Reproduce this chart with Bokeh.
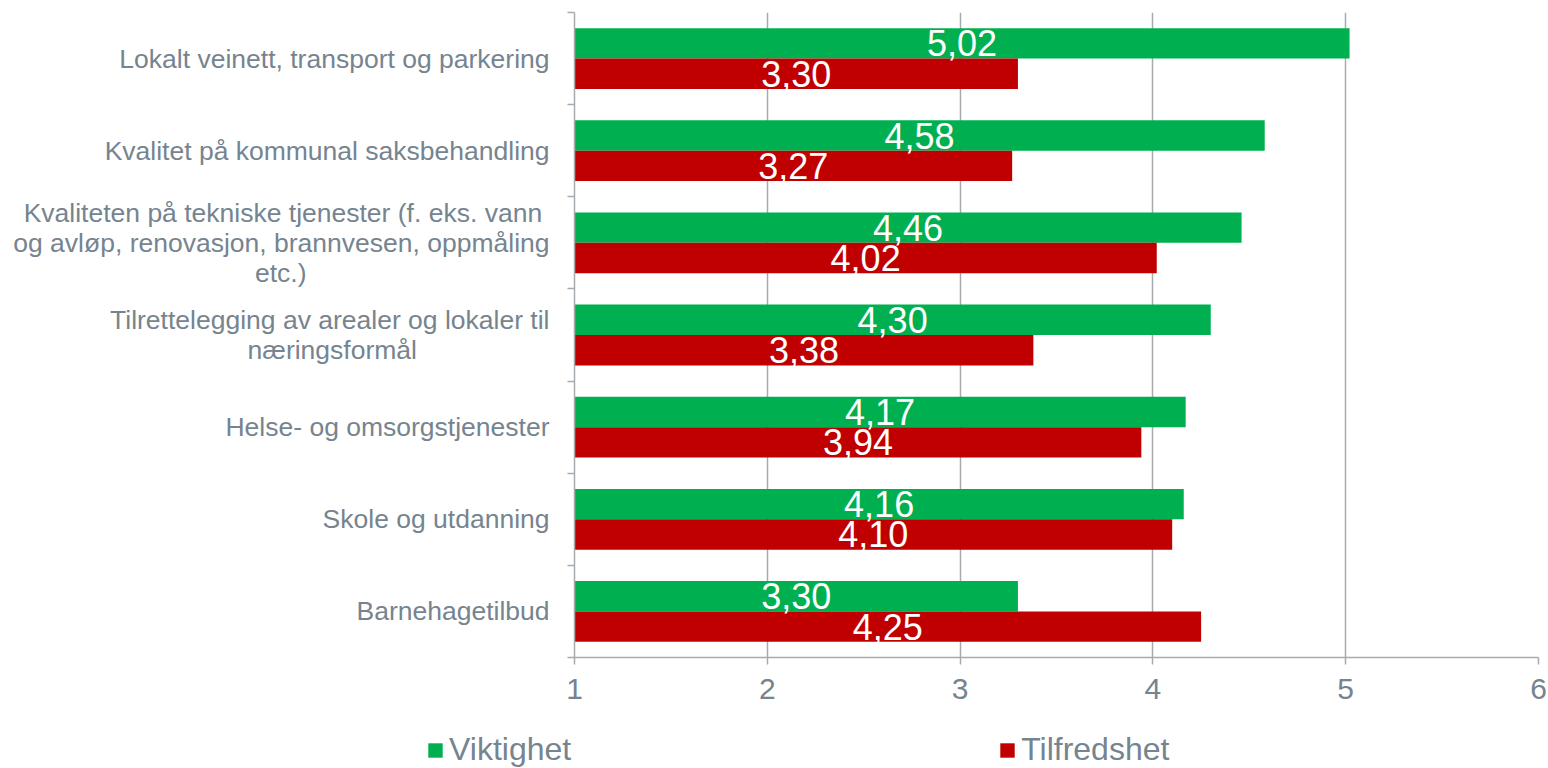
from bokeh.plotting import figure
from bokeh.layouts import column, row
from bokeh.models import Range1d, FixedTicker, Legend, LegendItem, ColumnDataSource
from bokeh.embed import file_html
from bokeh.resources import INLINE
from bokeh.core.properties import value

categories = [
    "Lokalt veinett, transport og parkering",
    "Kvalitet på kommunal saksbehandling",
    "Kvaliteten på tekniske tjenester (f. eks. vann\nog avløp, renovasjon, brannvesen, oppmåling\netc.)",
    "Tilrettelegging av arealer og lokaler til\nnæringsformål",
    "Helse- og omsorgstjenester",
    "Skole og utdanning",
    "Barnehagetilbud",
]
viktighet = [5.02, 4.58, 4.46, 4.30, 4.17, 4.16, 3.30]
tilfredshet = [3.30, 3.27, 4.02, 3.38, 3.94, 4.10, 4.25]
series_names = ["Viktighet", "Tilfredshet"]
x_ticks = [1, 2, 3, 4, 5, 6]

GREEN = "#00b050"
RED = "#c00000"
GRAY = "#a6abaf"
TEXT = "#76848f"
FONT = "Liberation Sans"
BAR_H = 0.33
X0 = 1
NBSP = "\u00a0"
# trailing non-breaking spaces per wrapped line, so that right-aligned lines look centred
LINE_PAD = {"vann": 1, "etc.)": 33, "næringsformål": 18}

n = len(categories)
centers = [n - i - 0.5 for i in range(n)]

def fmt(v):
    return f"{v:.2f}".replace(".", ",")

def pad_label(lab):
    if "\n" not in lab:
        return lab
    out = []
    for line in lab.split("\n"):
        k = next((v for key, v in LINE_PAD.items() if line.endswith(key)), 0)
        out.append(line + NBSP * k)
    return "\n".join(out)

src_g = ColumnDataSource(dict(
    y=[c + BAR_H / 2 for c in centers], right=viktighet, left=[X0] * n,
    tx=[(X0 + v) / 2 for v in viktighet],
    label=[fmt(v) for v in viktighet]))
src_r = ColumnDataSource(dict(
    y=[c - BAR_H / 2 for c in centers], right=tilfredshet, left=[X0] * n,
    tx=[(X0 + v) / 2 for v in tilfredshet],
    label=[fmt(v) for v in tilfredshet]))

p = figure(width=1548, height=718, output_backend="svg", toolbar_location=None,
           x_range=Range1d(1, 6), y_range=Range1d(0, n),
           min_border_left=574, min_border_right=10, min_border_top=12, min_border_bottom=61)
p.outline_line_color = None
p.background_fill_color = "white"

g = p.hbar(y="y", left="left", right="right", height=BAR_H, source=src_g,
           fill_color=GREEN, line_color=None)
r = p.hbar(y="y", left="left", right="right", height=BAR_H, source=src_r,
           fill_color=RED, line_color=None)

for src in (src_g, src_r):
    p.text(x="tx", y="y", text="label", source=src, text_color="white",
           text_font=value(FONT), text_font_size="36px", text_align="center",
           text_baseline="middle")

# x axis
xa = p.xaxis[0]
xa.ticker = FixedTicker(ticks=x_ticks, minor_ticks=[])
xa.axis_line_color = GRAY
xa.axis_line_width = 1.5
xa.major_tick_line_color = GRAY
xa.major_tick_line_width = 1.5
xa.major_tick_out = 7
xa.major_tick_in = 0
xa.minor_tick_line_color = None
xa.major_label_text_font = FONT
xa.major_label_text_font_size = "30px"
xa.major_label_text_color = TEXT
xa.major_label_standoff = 14

# y axis
ya = p.yaxis[0]
ya.ticker = FixedTicker(ticks=centers, minor_ticks=list(range(n + 1)))
ya.major_label_overrides = {c: pad_label(lab) for c, lab in zip(centers, categories)}
ya.axis_line_color = GRAY
ya.axis_line_width = 1.5
ya.major_tick_line_color = None
ya.major_tick_out = 0
ya.major_tick_in = 0
ya.minor_tick_line_color = GRAY
ya.minor_tick_line_width = 1.5
ya.minor_tick_out = 7
ya.minor_tick_in = 0
ya.major_label_text_font = FONT
ya.major_label_text_font_size = "26.5px"
ya.major_label_text_color = TEXT
ya.major_label_text_line_height = 1.0
ya.major_label_standoff = 18

p.ygrid.grid_line_color = None
p.xgrid.grid_line_color = GRAY
p.xgrid.grid_line_width = 1.5
p.xgrid.ticker = FixedTicker(ticks=x_ticks)

# legend strip below the chart (its bars lie outside its visible ranges)
lg = figure(width=1548, height=50, output_backend="svg", toolbar_location=None,
            x_range=Range1d(-20, -19), y_range=Range1d(-20, -19),
            x_axis_location=None, y_axis_location=None,
            min_border_left=0, min_border_right=0, min_border_top=0, min_border_bottom=0)
lg.outline_line_color = None
lg.xgrid.visible = False
lg.ygrid.visible = False
lg_g = lg.hbar(y="y", left="left", right="right", height=BAR_H, source=src_g,
               fill_color=GREEN, line_color=None)
lg_r = lg.hbar(y="y", left="left", right="right", height=BAR_H, source=src_r,
               fill_color=RED, line_color=None)

legend = Legend(items=[LegendItem(label=series_names[0], renderers=[lg_g]),
                       LegendItem(label=series_names[1], renderers=[lg_r])],
                orientation="horizontal", location=(426, 0),
                glyph_width=18, glyph_height=18, label_standoff=5, spacing=427,
                padding=0, margin=0, border_line_color=None, background_fill_alpha=0,
                label_text_font=FONT, label_text_font_size="32px", label_text_color=TEXT,
                label_height=34)
lg.add_layout(legend)

layout = column(p, row(lg), spacing=0)
open("out.html", "w").write(file_html(layout, INLINE))
